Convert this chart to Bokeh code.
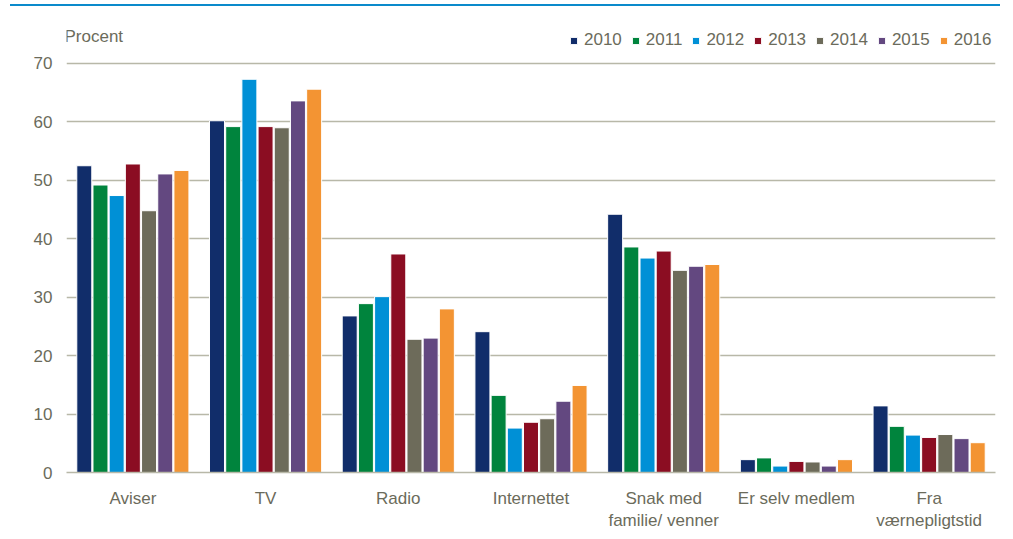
from bokeh.plotting import figure
from bokeh.models import ColumnDataSource, FactorRange, Range1d, Legend, LegendItem, Label, FixedTicker, Div
from bokeh.layouts import column
from bokeh.transform import dodge
from bokeh.embed import file_html
from bokeh.resources import INLINE

categories = ["Aviser", "TV", "Radio", "Internettet", "Snak med\nfamilie/ venner", "Er selv medlem", "Fra\nværnepligtstid"]
years = ["2010", "2011", "2012", "2013", "2014", "2015", "2016"]
v2010 = [52.5, 60.2, 26.8, 24.1, 44.2, 2.2, 11.4]
v2011 = [49.2, 59.2, 28.9, 13.2, 38.6, 2.5, 7.9]
v2012 = [47.4, 67.3, 30.1, 7.6, 36.7, 1.1, 6.4]
v2013 = [52.8, 59.2, 37.4, 8.6, 37.9, 1.9, 6.0]
v2014 = [44.8, 59.0, 22.8, 9.2, 34.6, 1.8, 6.5]
v2015 = [51.1, 63.6, 23.0, 12.2, 35.3, 1.1, 5.8]
v2016 = [51.7, 65.6, 28.0, 14.9, 35.6, 2.2, 5.1]
yticks = [0, 10, 20, 30, 40, 50, 60, 70]
colors = ["#112d6a", "#00843d", "#0090d6", "#8b0d22", "#6d6b5a", "#634880", "#f39433"]

series = [v2010, v2011, v2012, v2013, v2014, v2015, v2016]
data = {"cat": categories}
for y, s in zip(years, series):
    data[y] = s
source = ColumnDataSource(data)

TEXT = "#6b6b5b"
FONT = "Liberation Sans"
FS = "17px"

p = figure(x_range=FactorRange(*categories, range_padding=0), y_range=Range1d(0, 77.7),
           width=1013, height=531, output_backend="svg", toolbar_location=None,
           min_border_left=66, min_border_right=18, min_border_top=11, min_border_bottom=66)
p.outline_line_color = None
p.background_fill_color = "white"

renderers = []
for i, (y, c) in enumerate(zip(years, colors)):
    r = p.vbar(x=dodge("cat", (i - 3) * 0.122, range=p.x_range), top=y, width=0.113,
               source=source, fill_color=c, line_color="white", line_width=1)
    renderers.append(r)

p.xgrid.grid_line_color = None
p.ygrid.grid_line_color = "#b8b8a8"
p.ygrid.grid_line_width = 1.5
p.yaxis.ticker = FixedTicker(ticks=yticks)
p.yaxis.axis_line_color = None
p.yaxis.major_tick_line_color = None
p.yaxis.minor_tick_line_color = None
p.yaxis.major_label_text_font = FONT
p.yaxis.major_label_text_font_size = FS
p.yaxis.major_label_text_color = TEXT
p.yaxis.major_label_standoff = 8

p.xaxis.axis_line_color = "#b8b8a8"
p.xaxis.axis_line_width = 1.5
p.xaxis.major_tick_line_color = None
p.xaxis.minor_tick_line_color = None
p.xaxis.major_label_text_font = FONT
p.xaxis.major_label_text_font_size = FS
p.xaxis.major_label_text_color = TEXT
p.xaxis.major_label_standoff = 10

legend = Legend(items=[LegendItem(label=y, renderers=[r]) for y, r in zip(years, renderers)],
                orientation="horizontal", location=(503, 422),
                label_text_font=FONT, label_text_font_size=FS, label_text_color=TEXT,
                glyph_width=9, glyph_height=9, label_standoff=6, spacing=9, label_height=20,
                padding=0, margin=0, border_line_color=None, background_fill_alpha=0)
p.add_layout(legend, "center")

p.add_layout(Label(x=-2, y=436, x_units="screen", y_units="screen", text="Procent",
                   text_font=FONT, text_font_size=FS, text_color=TEXT, text_baseline="middle"))

topline = Div(text="", width=990, height=2, margin=(4, 0, 1, 10),
              styles={"background-color": "#0a8acb"})

layout = column(topline, p, spacing=0)

open("out.html", "w").write(file_html(layout, INLINE))
